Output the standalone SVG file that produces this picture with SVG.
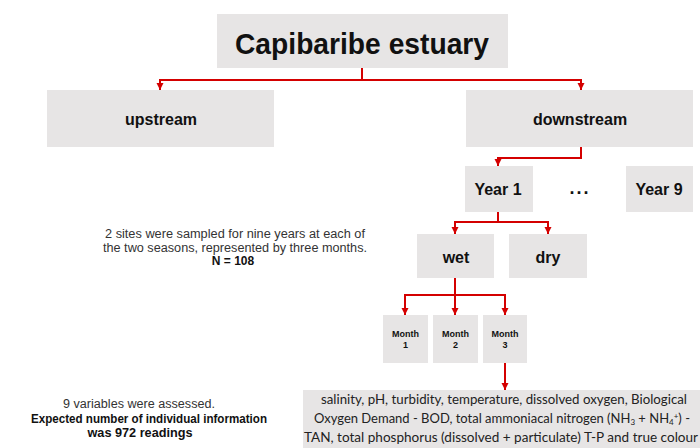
<svg xmlns="http://www.w3.org/2000/svg" width="700" height="448" viewBox="0 0 700 448">
<style>
.box{fill:#e7e5e5}
.lbl{font-family:"Liberation Sans",Arial,sans-serif;font-weight:bold;fill:#111;text-anchor:middle}
.note{font-family:"Liberation Sans",Arial,sans-serif;fill:#333;text-anchor:middle;font-size:12px}
.b{font-weight:bold;fill:#111}
.var{font-family:Lato,"Open Sans",sans-serif;fill:#222;text-anchor:middle;font-size:13px}
.con{fill:none;stroke:#d40000;stroke-width:2}
</style>
<defs>
<marker id="ah" markerUnits="userSpaceOnUse" markerWidth="8" markerHeight="8" refX="7" refY="3.5" orient="auto">
<path d="M0,0 L7,3.5 L0,7 z" fill="#d40000"/>
</marker>
</defs>
<rect width="700" height="448" fill="#fff"/>
<g id="connectors">
<path class="con" d="M362,68 V80"/>
<path class="con" d="M362,80 H160 V90" marker-end="url(#ah)"/>
<path class="con" d="M362,80 H581 V90" marker-end="url(#ah)"/>
<path class="con" d="M581,147 V158 H498 V166" marker-end="url(#ah)"/>
<path class="con" d="M498,212 V222"/>
<path class="con" d="M498,222 H455 V234" marker-end="url(#ah)"/>
<path class="con" d="M498,222 H548 V234" marker-end="url(#ah)"/>
<path class="con" d="M455,278 V295"/>
<path class="con" d="M455,295 H405 V315" marker-end="url(#ah)"/>
<path class="con" d="M455,295 V315" marker-end="url(#ah)"/>
<path class="con" d="M455,295 H505 V315" marker-end="url(#ah)"/>
<path class="con" d="M505,363 V390" marker-end="url(#ah)"/>
</g>
<g id="title">
<rect class="box" x="217" y="14" width="291" height="54"/>
<text class="lbl" x="362" y="54" font-size="30" textLength="254" lengthAdjust="spacingAndGlyphs">Capibaribe estuary</text>
</g>
<g id="upstream">
<rect class="box" x="47" y="90" width="227" height="57"/>
<text class="lbl" x="161" y="125" font-size="16">upstream</text>
</g>
<g id="downstream">
<rect class="box" x="466" y="90" width="227" height="57"/>
<text class="lbl" x="580" y="125" font-size="16">downstream</text>
</g>
<g id="year1">
<rect class="box" x="465" y="166" width="68" height="46"/>
<text class="lbl" x="498" y="195" font-size="16">Year 1</text>
</g>
<g id="ellipsis">
<text class="lbl" x="580" y="194" font-size="18" letter-spacing="2">...</text>
</g>
<g id="year9">
<rect class="box" x="626" y="166" width="67" height="46"/>
<text class="lbl" x="659" y="195" font-size="16">Year 9</text>
</g>
<g id="wet">
<rect class="box" x="417" y="234" width="77" height="44"/>
<text class="lbl" x="456" y="263" font-size="16">wet</text>
</g>
<g id="dry">
<rect class="box" x="509" y="234" width="78" height="44"/>
<text class="lbl" x="548" y="263" font-size="16">dry</text>
</g>
<g id="month1">
<rect class="box" x="383" y="315" width="45" height="48"/>
<text class="lbl" x="405.5" y="337" font-size="9">Month</text>
<text class="lbl" x="405.5" y="348" font-size="9">1</text>
</g>
<g id="month2">
<rect class="box" x="433" y="315" width="45" height="48"/>
<text class="lbl" x="455.5" y="337" font-size="9">Month</text>
<text class="lbl" x="455.5" y="348" font-size="9">2</text>
</g>
<g id="month3">
<rect class="box" x="483" y="315" width="44" height="48"/>
<text class="lbl" x="505" y="337" font-size="9">Month</text>
<text class="lbl" x="505" y="348" font-size="9">3</text>
</g>
<g id="variables">
<rect class="box" x="303" y="390" width="397" height="58"/>
<text class="var" x="504" y="404" textLength="366" lengthAdjust="spacingAndGlyphs">salinity, pH, turbidity, temperature, dissolved oxygen, Biological</text>
<text class="var" x="502" y="423" textLength="376" lengthAdjust="spacingAndGlyphs">Oxygen Demand - BOD, total ammoniacal nitrogen (NH<tspan font-size="8" dy="2">3</tspan><tspan dy="-2"> + NH</tspan><tspan font-size="8" dy="2">4</tspan><tspan font-size="8" dy="-6">+</tspan><tspan dy="4">) -</tspan></text>
<text class="var" x="501" y="442" textLength="394" lengthAdjust="spacingAndGlyphs">TAN, total phosphorus (dissolved + particulate) T-P and true colour</text>
</g>
<g id="sampling-note">
<text class="note" x="235" y="238" textLength="260" lengthAdjust="spacingAndGlyphs">2 sites were sampled  for nine years at each of</text>
<text class="note" x="235" y="252" textLength="264" lengthAdjust="spacingAndGlyphs">the two seasons, represented by three months.</text>
<text class="note b" x="233" y="265">N = 108</text>
</g>
<g id="readings-note">
<text class="note" x="139" y="408" font-size="12.5px" textLength="152" lengthAdjust="spacingAndGlyphs">9 variables were assessed.</text>
<text class="note b" x="149" y="423" textLength="236" lengthAdjust="spacingAndGlyphs">Expected number of individual  information</text>
<text class="note b" x="140" y="437" font-size="12.5px" textLength="105" lengthAdjust="spacingAndGlyphs">was 972 readings</text>
</g>
</svg>
